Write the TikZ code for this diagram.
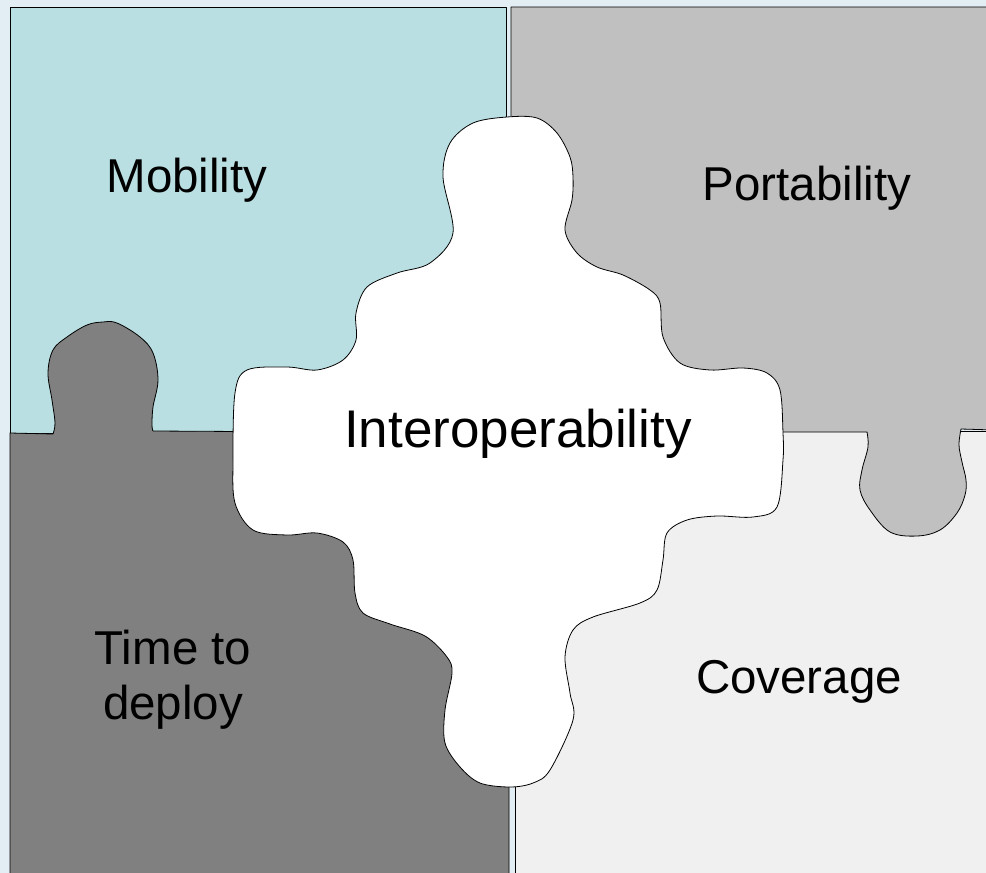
\documentclass[tikz,border=0pt]{standalone}
\usepackage{fontspec}
\setmainfont{Liberation Sans}
\definecolor{pageblue}{HTML}{E2EEF4}
\definecolor{tealpiece}{HTML}{B9DFE2}
\definecolor{greypiece}{HTML}{C0C0C0}
\definecolor{darkpiece}{HTML}{808080}
\definecolor{lightpiece}{HTML}{F0F0F0}
\tikzset{
  piece/.style={draw=black, line width=0.8pt, line join=round},
  label/.style={anchor=base, align=center, font=\fontsize{47.5}{55}\selectfont},
  biglabel/.style={anchor=base, font=\fontsize{53}{60}\selectfont}
}
\begin{document}
\begin{tikzpicture}[x=1pt, y=-1pt]
\useasboundingbox (0,0) rectangle (986,873);
\clip (0,0) rectangle (986,873);
\fill[pageblue] (0,0) rectangle (986,873);

% upper left: Mobility
\draw[piece, fill=tealpiece] (10,7) rectangle (506,433);
% lower right: Coverage
\draw[piece, fill=lightpiece] (515,431) rectangle (995,890);
% upper right: Portability, with its tab hanging down into Coverage
\draw[piece, fill=greypiece] (995,430) -- (961,429)
  -- plot[smooth, tension=0.6] coordinates {(961,429) (959,445) (962,462) (966,480) (965,495) (957,513) (940,530) (917,536) (890,532) (870,510) (860,490) (862,470) (868,447) (867,432)}
  -- (511,432) -- (511,7) -- (995,7) -- cycle;
% lower left: Time to deploy, with its tab pointing up into Mobility
\draw[piece, fill=darkpiece] (10,890) -- (10,433) -- (53,434)
  -- plot[smooth, tension=0.6] coordinates {(53,434) (55,423) (52,400) (48,373) (53,350) (67,337) (87,325) (103,322) (117,323) (140,337) (153,353) (158,380) (153,407) (152,425) (153,431)}
  -- (509,433) -- (509,890) -- cycle;

% centre piece: Interoperability
\draw[piece, fill=white] plot[smooth cycle, tension=0.55] coordinates {
  (507,117) (537,118) (557,133) (570,157) (573,177) (572,200) (565,230)
  (577,253) (597,267) (623,275) (650,290) (660,303) (663,337) (680,363)
  (710,370) (743,368) (767,373) (780,390) (783,433) (783,460) (777,507)
  (753,517) (717,516) (687,520) (667,533) (663,560) (657,590) (640,603)
  (593,617) (573,630) (565,657) (570,693) (573,720) (550,770) (533,783)
  (510,787) (480,783) (460,767) (445,743) (445,710) (452,673) (447,657)
  (425,636) (390,624) (363,613) (355,593) (353,560) (343,542) (317,533)
  (287,535) (253,530) (235,503) (233,460) (235,393) (247,370) (287,367)
  (317,370) (343,360) (356,340) (356,313) (367,287) (397,273) (430,263)
  (453,233) (443,177) (450,143) (473,123)};

\node[label] (mob) at (187,192) {Mobility};
\node[label] (port) at (807,200) {Portability};
\node[biglabel] (inter) at (518,447) {Interoperability};
\node[label] (time) at (173,664) {Time to};
\node[label] (deploy) at (173,719) {deploy};
\node[label] (cov) at (799,693) {Coverage};
\end{tikzpicture}
\end{document}
